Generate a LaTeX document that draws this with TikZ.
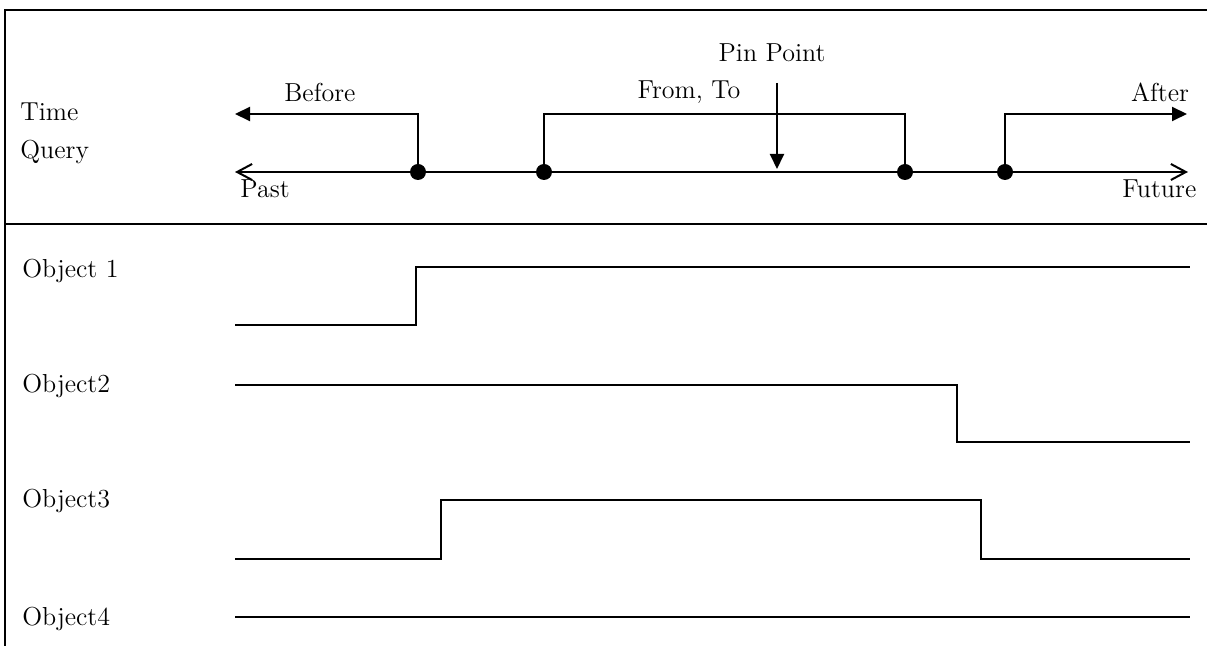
\documentclass[tikz,border=0pt]{standalone}
\usetikzlibrary{arrows.meta,positioning}
\tikzset{
	txt/.style = {inner sep=0pt, font=\fontsize{13}{15.6}\selectfont},
	rowtxt/.style = {txt, anchor=base west},
	tdot/.style = {circle, fill=black, inner sep=0pt, minimum size=8pt},
	frame/.style = {line width=1pt},
	wave/.style = {line width=1pt},
	axis/.style = {line width=1pt, {Straight Barb[length=7.5pt,width=8pt]}-{Straight Barb[length=7.5pt,width=8pt]}},
	qline/.style = {line width=1pt},
	qarrow/.style = {line width=1pt, -{Triangle[length=7.5pt,width=7pt]}}
}

\begin{document}
\begin{tikzpicture}[x=0.5pt, y=-0.5pt]
\useasboundingbox (0,0) rectangle (1207,646);

% frame
\draw[frame] (1207,10) -- (5,10) -- (5,646);
\draw[frame] (5,224) -- (1207,224);

% time query row
\node[rowtxt] (time) at (20,121) {Time};
\node[rowtxt] (query) at (20,159) {Query};

\coordinate (axL) at (235,172);
\coordinate (axR) at (1188,172);
\draw[axis] (axL) -- (axR);
\node[rowtxt] (past) at (240,198) {Past};
\node[rowtxt] (future) at (1122,198) {Future};

\node[tdot] (d1) at (418,172) {};
\node[tdot] (d2) at (544,172) {};
\node[tdot] (d3) at (905,172) {};
\node[tdot] (d4) at (1005,172) {};

% before
\coordinate (bL) at (235,114);
\draw[qarrow] (d1.center) |- (bL);
\node[txt] (before) at (320,92) {Before};

% from, to
\coordinate (ftL) at (544,114);
\coordinate (ftR) at (905,114);
\draw[qline] (d2.center) -- (ftL) -- (ftR) -- (d3.center);
\node[txt] (fromto) at (689,92) {From, To};

% pin point
\node[txt] (pin) at (772,53) {Pin Point};
\coordinate (pinTop) at (777,83);
\coordinate (pinEnd) at (777,169);
\draw[qarrow] (pinTop) -- (pinEnd);

% after
\coordinate (aR) at (1187,114);
\draw[qarrow] (d4.center) |- (aR);
\node[txt] (after) at (1160,92) {After};

% objects
\node[rowtxt] (obj1) at (22,278) {Object 1};
\draw[wave] (235,325) -- (416,325) -- (416,267) -- (1190,267);

\node[rowtxt] (obj2) at (22,393) {Object2};
\draw[wave] (235,385) -- (957,385) -- (957,442) -- (1190,442);

\node[rowtxt] (obj3) at (22,508) {Object3};
\draw[wave] (235,559) -- (441,559) -- (441,500) -- (981,500) -- (981,559) -- (1190,559);

\node[rowtxt] (obj4) at (22,626) {Object4};
\draw[wave] (235,617) -- (1190,617);
\end{tikzpicture}
\end{document}
